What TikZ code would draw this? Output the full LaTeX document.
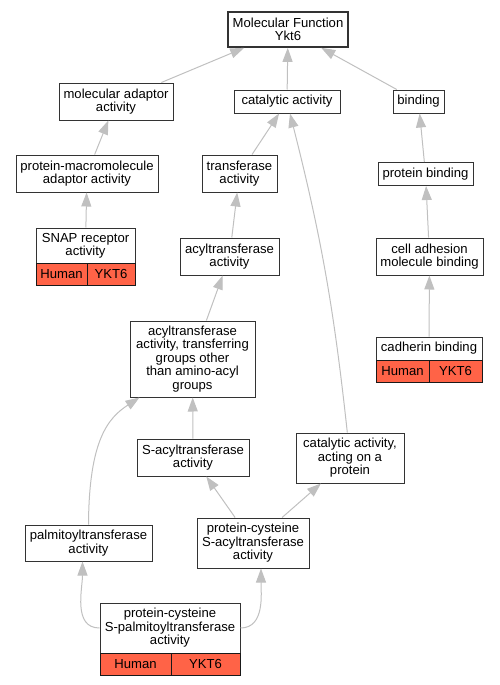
\documentclass[tikz,border=0pt]{standalone}
\usepackage{fontspec}
\setmainfont{Liberation Sans}
\usetikzlibrary{arrows.meta}
\definecolor{linkgray}{HTML}{C0C0C0}
\definecolor{hitred}{HTML}{FF6347}
\tikzset{
  termbox/.style={draw=black!80, line width=1pt, fill=white, inner sep=0pt, align=center, font=\fontsize{13.1}{13.4}\selectfont},
  rootbox/.style={termbox, line width=1.7pt},
  genecell/.style={termbox, draw=black!90, fill=hitred, minimum height=22pt},
  link/.style={draw=linkgray, line width=1pt, -{Triangle[length=14pt, width=10pt]}},
}

\begin{document}
\begin{tikzpicture}[x=1pt, y=-1pt]
\useasboundingbox (0,0) rectangle (499,685);
\node[rootbox, minimum width=120pt, minimum height=35pt] (mf) at (288,29.5) {Molecular Function\\Ykt6};
\node[termbox, minimum width=114pt, minimum height=37pt] (moladapt) at (116,101.5) {molecular adaptor\\activity};
\node[termbox, minimum width=106pt, minimum height=23pt] (catalytic) at (287,101.5) {catalytic activity};
\node[termbox, minimum width=51pt, minimum height=23pt] (binding) at (418.5,101.5) {binding};
\node[termbox, minimum width=142pt, minimum height=37pt] (pmadapt) at (87,173.5) {protein-macromolecule\\adaptor activity};
\node[termbox, minimum width=75pt, minimum height=37pt] (transferase) at (239.5,173.5) {transferase\\activity};
\node[termbox, minimum width=95pt, minimum height=23pt] (protbind) at (425.5,174) {protein binding};
\node[termbox, minimum width=99pt, minimum height=35pt] (snap) at (85.5,245.5) {SNAP receptor\\activity};
\node[genecell, minimum width=51pt] (snaporg) at (61.5,274) {Human};
\node[genecell, minimum width=48pt] (snapgene) at (111,274) {YKT6};
\node[termbox, minimum width=99pt, minimum height=37pt] (acyltrans) at (229.5,256.5) {acyltransferase\\activity};
\node[termbox, minimum width=107pt, minimum height=37pt] (celladh) at (429.5,256.5) {cell adhesion\\molecule binding};
\node[termbox, minimum width=125pt, minimum height=76pt] (acylother) at (192.5,359) {acyltransferase\\activity, transferring\\groups other\\than amino-acyl\\groups};
\node[termbox, minimum width=106pt, minimum height=23pt] (cadherin) at (429,348.5) {cadherin binding};
\node[genecell, minimum width=53pt] (cadorg) at (402.5,371) {Human};
\node[genecell, minimum width=53pt] (cadgene) at (455.5,371) {YKT6};
\node[termbox, minimum width=112pt, minimum height=37pt] (sacyl) at (193,457.5) {S-acyltransferase\\activity};
\node[termbox, minimum width=108pt, minimum height=50pt] (catprot) at (350,458) {catalytic activity,\\acting on a\\protein};
\node[termbox, minimum width=127pt, minimum height=36pt] (palm) at (88.5,543) {palmitoyltransferase\\activity};
\node[termbox, minimum width=112pt, minimum height=50pt] (pcsacyl) at (253,543) {protein-cysteine\\S-acyltransferase\\activity};
\node[termbox, minimum width=140pt, minimum height=50pt] (pcspalm) at (170,628) {protein-cysteine\\S-palmitoyltransferase\\activity};
\node[genecell, minimum width=71pt] (pcsorg) at (135.5,664) {Human};
\node[genecell, minimum width=69pt] (pcsgene) at (205.5,664) {YKT6};
\draw[link] (moladapt) -- (mf);
\draw[link] (catalytic) -- (mf);
\draw[link] (binding) -- (mf);
\draw[link] (pmadapt) -- (moladapt);
\draw[link] (transferase) -- (catalytic);
\draw[link] (catprot) to[bend right=4] (catalytic);
\draw[link] (protbind) -- (binding);
\draw[link] (snap) -- (pmadapt);
\draw[link] (acyltrans) -- (transferase);
\draw[link] (celladh) -- (protbind);
\draw[link] (acylother) -- (acyltrans);
\draw[link] (cadherin) -- (celladh);
\draw[link] (sacyl) -- (acylother);
\draw[link] (palm.north) .. controls (89,440) and (108,418) .. ([xshift=10pt]acylother.south west);
\draw[link] (pcsacyl) -- (sacyl);
\draw[link] (pcsacyl) -- (catprot);
\draw[link] (pcspalm.west) to[out=180, in=270] ([xshift=-6pt]palm.south);
\draw[link] (pcspalm.east) to[out=0, in=270] ([xshift=8pt]pcsacyl.south);
\end{tikzpicture}
\end{document}
